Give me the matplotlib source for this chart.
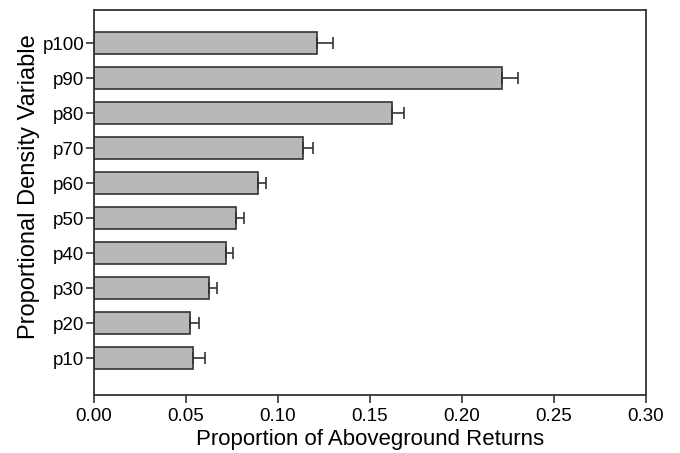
import numpy as np
import matplotlib.pyplot as plt

plt.rcParams["font.family"] = ["Liberation Sans", "DejaVu Sans"]

labels = ["p10", "p20", "p30", "p40", "p50", "p60", "p70", "p80", "p90", "p100"]
means = [0.054, 0.0522, 0.0627, 0.0717, 0.0775, 0.0893, 0.1134, 0.1621, 0.2219, 0.121]
errs = [0.0063, 0.0051, 0.0043, 0.0037, 0.004, 0.004, 0.0056, 0.0062, 0.0084, 0.0087]

fig = plt.figure(figsize=(6.8, 4.53), dpi=100)
ax = fig.add_axes([0.138, 0.128, 0.812, 0.85])

ypos = np.arange(1, len(labels) + 1)
ax.barh(ypos, means, height=0.62, color="#b8b8b8", edgecolor="#333333", linewidth=1.2)
ax.errorbar(means, ypos, xerr=[np.zeros(len(errs)), errs], fmt="none",
            ecolor="#333333", elinewidth=1.2, capsize=4, capthick=1.2)

ax.set_xlim(0, 0.30)
ax.set_ylim(-0.05, 10.95)
ax.set_xticks(np.arange(0, 0.301, 0.05))
ax.set_xticklabels([f"{v:.2f}" for v in np.arange(0, 0.301, 0.05)])
ax.set_yticks(ypos)
ax.set_yticklabels(labels)
ax.tick_params(axis="both", labelsize=13.5, length=5.5, width=1.2, color="#333333", direction="out")
ax.tick_params(axis="y", pad=1.5)
ax.tick_params(axis="x", top=False)
ax.tick_params(axis="y", right=False)
for s in ax.spines.values():
    s.set_linewidth(1.3)
    s.set_color("#333333")

ax.set_xlabel("Proportion of Aboveground Returns", fontsize=16, labelpad=3)
ax.set_ylabel("Proportional Density Variable", fontsize=17, va="center")
ax.yaxis.set_label_coords(-0.118, 0.54)

fig.savefig("out.png", dpi=100)
